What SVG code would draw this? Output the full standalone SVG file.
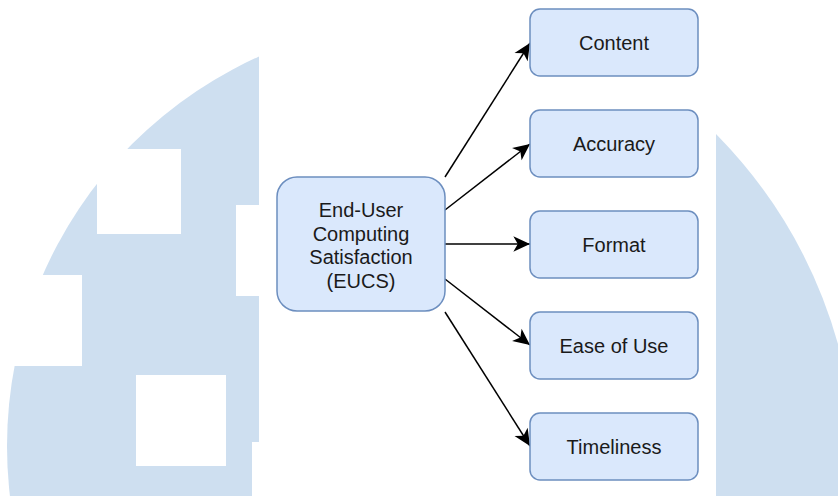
<svg xmlns="http://www.w3.org/2000/svg" width="838" height="496" viewBox="0 0 838 496">
<style>
.node{fill:#dae8fc;stroke:#6c8ebf;stroke-width:1.5}
.lbl{font-family:"Liberation Sans",Arial,sans-serif;font-size:20px;fill:#1a1a1a;text-anchor:middle}
.edge{stroke:#000;stroke-width:1.5;fill:none}
.bg{fill:#cedff0}
</style>
<defs>
<marker id="arr" markerUnits="userSpaceOnUse" markerWidth="20" markerHeight="20" viewBox="-16 -8 18 16" refX="0" refY="0" orient="auto">
<path d="M0,0 L-15,-7 L-11,0 L-15,7 Z" fill="#000"/>
</marker>
<clipPath id="leftClip"><rect x="0" y="0" width="259" height="496"/></clipPath>
</defs>
<g id="background">
<circle class="bg" cx="434" cy="446" r="427" clip-path="url(#leftClip)"/>
<rect x="97" y="149" width="84" height="85" fill="#fff"/>
<rect x="0" y="275" width="82" height="91" fill="#fff"/>
<rect x="136" y="375" width="90" height="91" fill="#fff"/>
<rect x="236" y="205" width="24" height="91" fill="#fff"/>
<rect x="252" y="442" width="8" height="54" fill="#fff"/>
<path class="bg" d="M716,134 A489,489 0 0 1 838,344 L838,496 L716,496 Z"/>
</g>
<g id="connectors">
<line class="edge" x1="445" y1="177" x2="530" y2="43" marker-end="url(#arr)"/>
<line class="edge" x1="445" y1="210" x2="530" y2="144" marker-end="url(#arr)"/>
<line class="edge" x1="445" y1="244" x2="530" y2="244" marker-end="url(#arr)"/>
<line class="edge" x1="445" y1="279" x2="530" y2="345" marker-end="url(#arr)"/>
<line class="edge" x1="445" y1="312" x2="530" y2="446" marker-end="url(#arr)"/>
</g>
<g id="eucs">
<rect class="node" x="277" y="177" width="168" height="134" rx="20"/>
<text class="lbl" x="361" y="217">End-User</text>
<text class="lbl" x="361" y="240.5">Computing</text>
<text class="lbl" x="361" y="264">Satisfaction</text>
<text class="lbl" x="361" y="288">(EUCS)</text>
</g>
<g id="content">
<rect class="node" x="530" y="9" width="168" height="67" rx="10"/>
<text class="lbl" x="614" y="50">Content</text>
</g>
<g id="accuracy">
<rect class="node" x="530" y="110" width="168" height="67" rx="10"/>
<text class="lbl" x="614" y="151">Accuracy</text>
</g>
<g id="format">
<rect class="node" x="530" y="211" width="168" height="67" rx="10"/>
<text class="lbl" x="614" y="252">Format</text>
</g>
<g id="ease">
<rect class="node" x="530" y="312" width="168" height="67" rx="10"/>
<text class="lbl" x="614" y="353">Ease of Use</text>
</g>
<g id="timeliness">
<rect class="node" x="530" y="413" width="168" height="67" rx="10"/>
<text class="lbl" x="614" y="454">Timeliness</text>
</g>
</svg>
